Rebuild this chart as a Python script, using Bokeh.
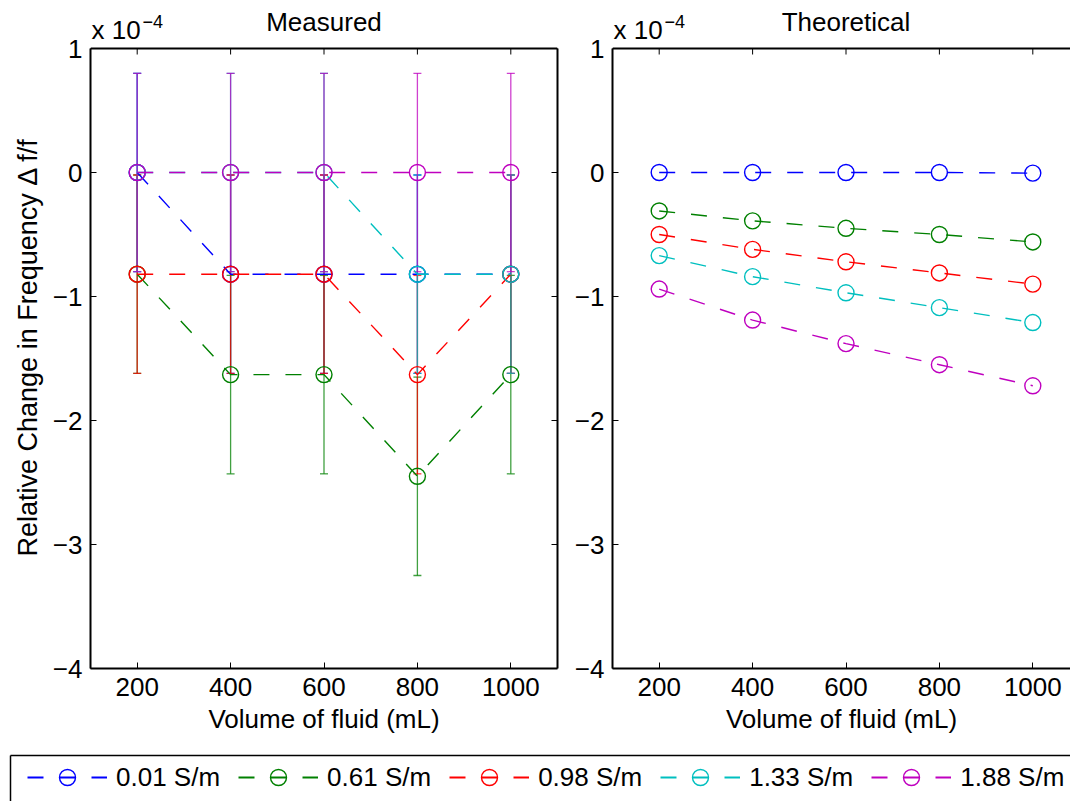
import math
from bokeh.plotting import figure
from bokeh.models import (Range1d, FixedTicker, LinearAxis, Whisker, TeeHead, Span, Title,
                          ColumnDataSource, Label, Legend, LegendItem)
from bokeh.layouts import row, column
from bokeh.embed import file_html
from bokeh.resources import INLINE

# ---------------- data (values in units of 1e-4) ----------------
volumes = [200, 400, 600, 800, 1000]
series_labels = ["0.01 S/m", "0.61 S/m", "0.98 S/m", "1.33 S/m", "1.88 S/m"]
colors = ["#0000ff", "#008000", "#ff0000", "#00bfbf", "#bf00bf"]

measured_001 = [0.0, -0.82, -0.82, -0.82, -0.82]
measured_061 = [-0.82, -1.63, -1.63, -2.45, -1.63]
measured_098 = [-0.82, -0.82, -0.82, -1.63, -0.82]
measured_133 = [0.0, 0.0, 0.0, -0.82, -0.82]
measured_188 = [0.0, 0.0, 0.0, 0.0, 0.0]
measured_err = [0.8, 0.8, 0.8, 0.8, 0.8]

theory_001 = [0.0, 0.0, 0.0, 0.0, -0.005]
theory_061 = [-0.31, -0.39, -0.45, -0.50, -0.56]
theory_098 = [-0.50, -0.62, -0.72, -0.81, -0.90]
theory_133 = [-0.67, -0.84, -0.97, -1.09, -1.21]
theory_188 = [-0.94, -1.19, -1.38, -1.55, -1.72]

x_ticks = [200, 400, 600, 800, 1000]
y_ticks = [-4, -3, -2, -1, 0, 1]
y_tick_labels = ["\u22124", "\u22123", "\u22122", "\u22121", "0", "1"]
x_lim = (100, 1100)
y_lim = (-4, 1)

measured = [measured_001, measured_061, measured_098, measured_133, measured_188]
theory = [theory_001, theory_061, theory_098, theory_133, theory_188]

FONT = "Liberation Sans"
FS = "26px"
DASH = "16 16"
LW = 1.4

# ---------------- layout sizes (pixels) ----------------
TOP_PAD = 48          # space above the axes box (titles live there)
BOX_H = 620           # height of the axes box
H_MAIN = TOP_PAD + BOX_H + 80
H_LEG = 801 - H_MAIN
W1, W2 = 570, 500
L1, R1 = 90, 13
L2, R2 = 42, 0
F1 = W1 - L1 - R1
F2 = W2 - L2 - R2
x_end2 = x_lim[0] + (F2 / F1) * (x_lim[1] - x_lim[0])
units_per_px = (y_lim[1] - y_lim[0]) / BOX_H
y_top = y_lim[1] + TOP_PAD * units_per_px
tick_len = 6 * units_per_px


def line_axis(line_w=2, bounds=None):
    ax = LinearAxis(ticker=FixedTicker(ticks=[]), major_label_standoff=0,
                    major_tick_in=0, major_tick_out=0, minor_tick_in=0,
                    minor_tick_out=0, axis_line_width=line_w, axis_line_color="black")
    if bounds is not None:
        ax.bounds = bounds
    return ax


def make_panel(width, left, right, x_range, title, ylabel=None, box_right=True):
    p = figure(width=width, height=H_MAIN, x_range=x_range, y_range=Range1d(y_lim[0], y_top),
               output_backend="svg", toolbar_location=None, tools="",
               min_border_left=left, min_border_right=right, min_border_top=0,
               min_border_bottom=80)
    p.outline_line_color = None
    p.grid.visible = False
    xa = p.xaxis[0]
    xa.ticker = FixedTicker(ticks=x_ticks)
    ya = p.yaxis[0]
    ya.ticker = FixedTicker(ticks=y_ticks)
    ya.bounds = y_lim
    ya.major_label_overrides = {t: s for t, s in zip(y_ticks, y_tick_labels)}
    for ax in (xa, ya):
        ax.major_tick_in = 6
        ax.major_tick_out = 0
        ax.minor_tick_in = 0
        ax.minor_tick_out = 0
        ax.axis_line_width = 2
        ax.axis_line_color = "black"
        ax.major_tick_line_color = "black"
        ax.major_label_text_font = FONT
        ax.major_label_text_font_size = FS
        ax.major_label_text_color = "black"
        ax.axis_label_text_font = FONT
        ax.axis_label_text_font_size = FS
        ax.axis_label_text_font_style = "normal"
        ax.axis_label_text_color = "black"
    xa.major_label_standoff = 9
    ya.major_label_standoff = 8
    xa.axis_label = "Volume of fluid (mL)"
    xa.axis_label_standoff = 5
    if ylabel:
        # y label placed along the axes box (starts a little above its bottom)
        p.add_layout(Title(text=ylabel, align="left", offset=112, standoff=14,
                           text_font=FONT, text_font_size="27px", text_font_style="normal",
                           text_color="black"), "left")
    # top edge of the box with inward ticks
    p.add_layout(Span(location=y_lim[1], dimension="width", line_color="black", line_width=2))
    p.segment(x0=x_ticks, y0=[y_lim[1]] * len(x_ticks), x1=x_ticks,
              y1=[y_lim[1] - tick_len] * len(x_ticks), line_color="black", line_width=1)
    if box_right:
        p.add_layout(line_axis(bounds=y_lim), "right")
        p.scatter(x=[x_lim[1]] * len(y_ticks), y=y_ticks, marker="dash", size=12,
                  line_color="black", line_width=1)
    # title and exponent above the box
    p.add_layout(Label(x=(x_lim[0] + x_lim[1]) / 2, y=y_lim[1], y_offset=27, text=title,
                       text_align="center", text_baseline="middle",
                       text_font=FONT, text_font_size=FS, text_color="black"))
    p.add_layout(Label(x=x_lim[0], y=y_lim[1], y_offset=18.5, x_offset=1, text="x 10",
                       text_align="left", text_baseline="middle",
                       text_font=FONT, text_font_size=FS, text_color="black"))
    p.add_layout(Label(x=x_lim[0], y=y_lim[1], y_offset=27, x_offset=52, text="\u22124",
                       text_align="left", text_baseline="middle",
                       text_font=FONT, text_font_size="18px", text_color="black"))
    return p


p1 = make_panel(W1, L1, R1, Range1d(*x_lim), "Measured",
                ylabel="Relative Change in Frequency \u0394 f/f")
p2 = make_panel(W2, L2, R2, Range1d(x_lim[0], x_end2), "Theoretical", box_right=False)

# measured: error bars + dashed lines + circles
for vals, col in zip(measured, colors):
    src = ColumnDataSource(dict(x=volumes, y=vals,
                                upper=[v + e for v, e in zip(vals, measured_err)],
                                lower=[v - e for v, e in zip(vals, measured_err)]))
    w = Whisker(source=src, base="x", upper="upper", lower="lower", dimension="height",
                line_color=col, line_width=1.3, line_alpha=0.75,
                upper_head=TeeHead(size=8, line_color=col, line_width=1.3, line_alpha=0.75),
                lower_head=TeeHead(size=8, line_color=col, line_width=1.3, line_alpha=0.75))
    p1.add_layout(w)
    p1.line("x", "y", source=src, line_color=col, line_width=LW, line_dash=DASH)
    p1.scatter("x", "y", source=src, marker="circle", size=16, fill_color=None,
               line_color=col, line_width=1.4)

for vals, col in zip(theory, colors):
    src = ColumnDataSource(dict(x=volumes, y=vals))
    p2.line("x", "y", source=src, line_color=col, line_width=LW, line_dash=DASH)
    p2.scatter("x", "y", source=src, marker="circle", size=16, fill_color=None,
               line_color=col, line_width=1.4)

# ---------------- legend strip ----------------
p3 = figure(width=W1 + W2, height=H_LEG, x_range=Range1d(0, 1), y_range=Range1d(0, 1),
            x_axis_type=None, y_axis_type=None, output_backend="svg",
            toolbar_location=None, tools="", min_border_left=10, min_border_top=7,
            min_border_right=0, min_border_bottom=0)
p3.outline_line_color = None
p3.grid.visible = False
p3.add_layout(line_axis(1.5), "left")
p3.add_layout(line_axis(1.5), "above")

items = []
for lab, col, vals in zip(series_labels, colors, theory):
    # proxies carrying the series data; they fall outside this strip's ranges
    src = ColumnDataSource(dict(x=volumes, y=vals))
    lr = p3.line("x", "y", source=src, line_color=col, line_width=1.8, line_dash=DASH)
    sr = p3.scatter("x", "y", source=src, marker="circle", size=16, fill_color=None,
                    line_color=col, line_width=1.4)
    items.append(LegendItem(label=lab, renderers=[lr, sr]))

legend = Legend(items=items, orientation="horizontal", location=(17, 4),
                glyph_width=80, glyph_height=40, label_height=40, label_standoff=9,
                spacing=18, padding=0, margin=0, border_line_color=None,
                background_fill_alpha=0, label_text_font=FONT,
                label_text_font_size=FS, label_text_color="black")
p3.add_layout(legend, "center")

layout = column(row(p1, p2), p3)
open("out.html", "w").write(file_html(layout, INLINE))
